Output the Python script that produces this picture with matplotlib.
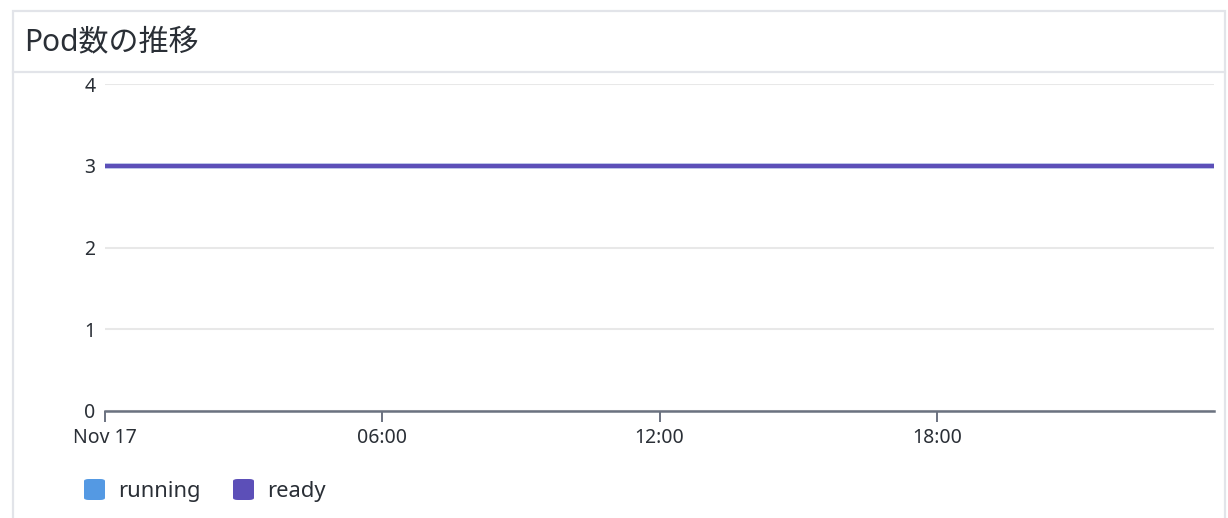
import numpy as np
import matplotlib.pyplot as plt
from matplotlib.patches import Rectangle, FancyBboxPatch
from matplotlib.lines import Line2D

plt.rcParams['font.family'] = ['Noto Sans', 'Noto Sans CJK JP', 'DejaVu Sans']

# hours since Nov 17 00:00
hours = [0, 1, 2, 3, 4, 5, 6, 7, 8, 9, 10, 11, 12,
         13, 14, 15, 16, 17, 18, 19, 20, 21, 22, 23, 24]
running = [3, 3, 3, 3, 3, 3, 3, 3, 3, 3, 3, 3, 3,
           3, 3, 3, 3, 3, 3, 3, 3, 3, 3, 3, 3]
ready = [3, 3, 3, 3, 3, 3, 3, 3, 3, 3, 3, 3, 3,
         3, 3, 3, 3, 3, 3, 3, 3, 3, 3, 3, 3]
x_ticks = [0, 6, 12, 18]
x_labels = ['Nov 17', '06:00', '12:00', '18:00']
y_ticks = [0, 1, 2, 3, 4]

c_running = '#5499e3'
c_ready = '#5c4fb8'
text_c = '#2a2f36'

W, H = 1228, 518
fig = plt.figure(figsize=(W / 100, H / 100), dpi=100)

# panel frame
fig.patches.append(Rectangle((13 / W, -0.1), 1212 / W, (H - 11) / H + 0.1,
                             transform=fig.transFigure, fill=False,
                             edgecolor='#e2e4e9', linewidth=1.6))
fig.lines.append(Line2D([13 / W, 1225 / W], [1 - 72 / H, 1 - 72 / H],
                        transform=fig.transFigure, color='#e2e4e9', linewidth=1.6))
fig.text(24 / W, 1 - 43 / H, 'Pod数の推移', fontsize=21.6, color=text_c,
         va='center', ha='left')

left, right = 105, 1214
top, bottom = 84, 411
ax = fig.add_axes([left / W, 1 - bottom / H, (right - left) / W, (bottom - top) / H])
ax.set_xlim(0, 24)
ax.set_ylim(0, 4)

ax.plot(hours, running, color=c_running, linewidth=3.2, solid_capstyle='butt')
ax.plot(hours, ready, color=c_ready, linewidth=3.2, solid_capstyle='butt')

for s in ['top', 'right', 'left']:
    ax.spines[s].set_visible(False)
ax.spines['bottom'].set_color('#6b7280')
ax.spines['bottom'].set_linewidth(1.8)
ax.set_yticks(y_ticks)
ax.set_yticklabels([str(v) for v in y_ticks])
ax.tick_params(axis='y', length=0, pad=7, labelsize=14, labelcolor=text_c)
ax.set_xticks(x_ticks)
ax.set_xticklabels(x_labels)
ax.tick_params(axis='x', length=8, width=1.4, color='#6b7280', pad=4,
               labelsize=14, labelcolor=text_c)
ax.grid(axis='y', color='#e8e8e8', linewidth=1.5)
ax.set_axisbelow(True)

# legend
fy = 1 - 490 / H
for xpos, lab, col in [(84, 'running', c_running), (233, 'ready', c_ready)]:
    fig.patches.append(FancyBboxPatch((xpos / W, fy - 10 / H), 21 / W, 21 / H,
                                      boxstyle='round,pad=0,rounding_size=0.004',
                                      transform=fig.transFigure, facecolor=col,
                                      edgecolor='none'))
    fig.text((xpos + 34) / W, fy - 2 / H, lab, fontsize=15.8, color=text_c,
             va='center', ha='left')

fig.savefig('out.png', dpi=100)
